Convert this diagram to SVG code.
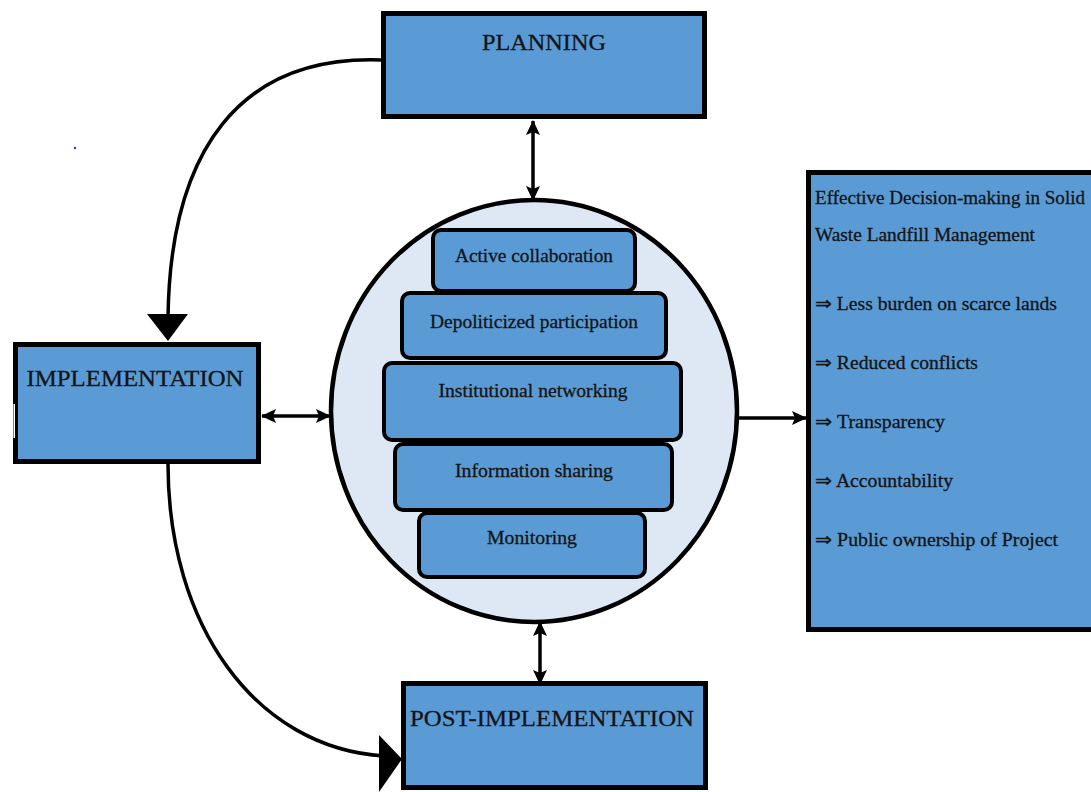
<svg xmlns="http://www.w3.org/2000/svg" width="1091" height="792" viewBox="0 0 1091 792">
<style>
.box{fill:#5b9bd5;stroke:#000;stroke-width:5}
.bar{fill:#5b9bd5;stroke:#000;stroke-width:4}
.t{font-family:"Liberation Serif",serif;fill:#141414;stroke:#141414;stroke-width:0.3}
.big{font-size:24px;text-anchor:middle}
.mid{font-size:19px;text-anchor:middle}
.side{font-size:18.5px}
.ln{fill:none;stroke:#000;stroke-width:3.5}
</style>
<defs>
<marker id="ah" markerUnits="userSpaceOnUse" markerWidth="16" markerHeight="14" refX="14" refY="7" orient="auto-start-reverse">
<path d="M0,0 L15,7 L0,14 L3,7 Z" fill="#000"/>
</marker>
</defs>
<rect width="1091" height="792" fill="#fff"/>
<circle cx="75" cy="148" r="1.2" fill="#2233dd"/>

<g id="connectors">
<path class="ln" d="M381,60 C 240,55 170,150 168,318"/>
<polygon points="147,314 188,314 168,341" fill="#000"/>
<path class="ln" d="M168,464 C 168,625 255,748 384,756"/>
<polygon points="379,735 402,759 379,792" fill="#000"/>
<line class="ln" x1="533" y1="121" x2="533" y2="200" marker-start="url(#ah)" marker-end="url(#ah)"/>
<line class="ln" x1="262" y1="416" x2="330" y2="416" marker-start="url(#ah)" marker-end="url(#ah)"/>
<line class="ln" x1="739" y1="418" x2="806" y2="418" marker-end="url(#ah)"/>
<line class="ln" x1="540" y1="622" x2="540" y2="684" marker-start="url(#ah)" marker-end="url(#ah)"/>
</g>

<g id="planning">
<rect class="box" x="383.5" y="13.5" width="321" height="103"/>
<text class="t big" x="544" y="50" textLength="124" lengthAdjust="spacingAndGlyphs">PLANNING</text>
</g>

<g id="implementation">
<rect class="box" x="15.5" y="344.5" width="243" height="117"/>
<rect x="13.5" y="404" width="1.5" height="34" fill="#fff"/>
<text class="t big" x="135" y="386" textLength="217" lengthAdjust="spacingAndGlyphs">IMPLEMENTATION</text>
</g>

<g id="post-implementation">
<rect class="box" x="403.5" y="683.5" width="302" height="104"/>
<text class="t big" x="552" y="726" textLength="284" lengthAdjust="spacingAndGlyphs">POST-IMPLEMENTATION</text>
</g>

<g id="hub">
<ellipse cx="534" cy="411" rx="203" ry="211" fill="#dde8f4" stroke="#000" stroke-width="4.5"/>
</g>

<g id="active-collaboration">
<rect class="bar" x="433" y="230" width="202" height="61" rx="8"/>
<text class="t mid" x="534" y="262" textLength="158" lengthAdjust="spacingAndGlyphs">Active collaboration</text>
</g>
<g id="depoliticized-participation">
<rect class="bar" x="402" y="293" width="264" height="65" rx="8"/>
<text class="t mid" x="534" y="328" textLength="208" lengthAdjust="spacingAndGlyphs">Depoliticized participation</text>
</g>
<g id="institutional-networking">
<rect class="bar" x="384" y="363" width="297" height="77" rx="8"/>
<text class="t mid" x="533" y="397" textLength="189" lengthAdjust="spacingAndGlyphs">Institutional networking</text>
</g>
<g id="information-sharing">
<rect class="bar" x="395" y="444" width="277" height="66" rx="8"/>
<text class="t mid" x="534" y="477" textLength="158" lengthAdjust="spacingAndGlyphs">Information sharing</text>
</g>
<g id="monitoring">
<rect class="bar" x="419" y="513" width="226" height="64" rx="8"/>
<text class="t mid" x="532" y="544" textLength="90" lengthAdjust="spacingAndGlyphs">Monitoring</text>
</g>

<g id="outcomes">
<rect class="box" x="808.5" y="172.5" width="300" height="457"/>
<text class="t side" x="815" y="204" textLength="270" lengthAdjust="spacingAndGlyphs">Effective Decision-making in Solid</text>
<text class="t side" x="815" y="241" textLength="220" lengthAdjust="spacingAndGlyphs">Waste Landfill Management</text>
<text class="t side" x="815" y="310" textLength="242" lengthAdjust="spacingAndGlyphs">⇒ Less burden on scarce lands</text>
<text class="t side" x="815" y="369" textLength="163" lengthAdjust="spacingAndGlyphs">⇒ Reduced conflicts</text>
<text class="t side" x="815" y="428" textLength="130" lengthAdjust="spacingAndGlyphs">⇒ Transparency</text>
<text class="t side" x="815" y="487" textLength="138" lengthAdjust="spacingAndGlyphs">⇒ Accountability</text>
<text class="t side" x="815" y="546" textLength="243" lengthAdjust="spacingAndGlyphs">⇒ Public ownership of Project</text>
</g>
</svg>
